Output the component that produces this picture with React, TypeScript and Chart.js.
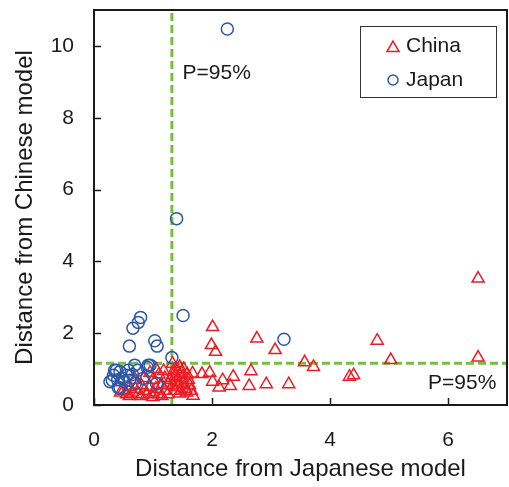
import React, { useEffect, useRef } from 'react';
import { Chart, registerables } from 'chart.js';

Chart.register(...registerables);

// ---- data ----
const japanPoints: [number, number][] = [
  [2.26, 10.47], [1.40, 5.19], [1.51, 2.49], [3.22, 1.83],
  [0.79, 2.44], [0.75, 2.30], [0.66, 2.14], [0.60, 1.64],
  [1.03, 1.79], [1.07, 1.64], [1.32, 1.32],
  [0.35, 0.97], [0.44, 0.93], [0.27, 0.65], [0.41, 0.49], [0.55, 0.83],
  [0.61, 0.69], [0.69, 1.11], [0.74, 0.97], [0.83, 0.74], [0.95, 1.11],
  [1.06, 0.60], [0.52, 0.65], [0.33, 0.83], [0.58, 0.97], [0.44, 0.47],
  [0.48, 0.75], [0.65, 0.85], [0.90, 1.05], [0.40, 0.70], [0.70, 0.60],
  [0.31, 0.69], [0.38, 0.97], [0.92, 1.11],
];

const chinaPoints: [number, number][] = [
  [6.51, 3.52], [6.51, 1.32], [4.80, 1.79], [5.03, 1.25], [4.33, 0.79],
  [4.40, 0.83], [3.07, 1.53], [3.57, 1.19], [3.72, 1.06], [2.92, 0.58],
  [3.30, 0.58], [2.01, 2.17], [2.76, 1.85], [1.99, 1.67], [2.06, 1.48],
  [2.66, 0.94], [2.36, 0.79], [2.18, 0.69], [2.01, 0.65], [1.96, 0.90],
  [1.83, 0.86], [1.67, 0.88], [2.31, 0.53], [2.63, 0.53], [2.12, 0.49],
  [1.68, 0.26], [1.45, 0.32], [1.45, 1.06],
  [1.33, 1.15], [1.35, 0.95], [1.38, 0.80], [1.40, 0.65], [1.42, 0.50],
  [1.36, 0.40], [1.48, 0.90], [1.50, 0.75], [1.52, 0.60], [1.55, 0.45],
  [1.58, 0.85], [1.60, 0.70], [1.62, 0.55], [1.45, 0.85], [1.30, 0.70],
  [1.33, 0.55], [1.40, 1.00], [1.52, 1.00], [1.57, 0.35], [1.47, 0.40],
  [1.65, 0.40],
  [0.50, 0.40], [0.55, 0.30], [0.60, 0.50], [0.65, 0.35], [0.70, 0.45],
  [0.75, 0.30], [0.80, 0.55], [0.85, 0.40], [0.90, 0.30], [0.95, 0.50],
  [1.00, 0.35], [1.05, 0.45], [1.10, 0.30], [1.15, 0.55], [1.20, 0.40],
  [1.25, 0.30], [0.70, 0.70], [0.85, 0.75], [1.00, 0.70], [1.10, 0.85],
  [1.20, 0.75], [0.95, 0.90], [1.25, 0.60], [0.60, 0.25], [0.80, 0.25],
  [1.00, 0.22], [1.15, 0.25], [0.45, 0.35], [1.05, 1.00], [1.18, 0.95],
];

const seriesNames = ['China', 'Japan'];
const thresholdX = 1.32; // P=95% on Japanese model distance
const thresholdY = 1.16; // P=95% on Chinese model distance
const thresholdLabel = 'P=95%';
const xRange = [0, 7];
const yRange = [0, 11];
const xTickStep = 2;
const yTickStep = 2;
const xTitle = 'Distance from Japanese model';
const yTitle = 'Distance from Chinese model';

const RED = '#ec1c24';
const BLUE = '#2c58a8';
const GREEN = '#77bd43';
const INK = '#1a1a1a';
const FONT = "'Liberation Sans', Arial, Helvetica, sans-serif";

const framePlugin = {
  id: 'frame',
  afterDatasetsDraw(chart: any) {
    const { ctx, chartArea: a, scales } = chart;
    const xs = scales.x;
    const ys = scales.y;
    ctx.save();
    // threshold labels
    ctx.fillStyle = INK;
    ctx.font = `21px ${FONT}`;
    ctx.textBaseline = 'middle';
    ctx.textAlign = 'left';
    ctx.fillText(thresholdLabel, xs.getPixelForValue(thresholdX + 0.18), ys.getPixelForValue(9.25));
    ctx.textAlign = 'right';
    ctx.fillText(thresholdLabel, xs.getPixelForValue(6.82), ys.getPixelForValue(0.62));

    // inward ticks
    ctx.strokeStyle = INK;
    ctx.lineWidth = 1.5;
    ctx.beginPath();
    xs.ticks.forEach((t: any) => {
      const px = Math.round(xs.getPixelForValue(t.value)) + 0.5;
      ctx.moveTo(px, a.bottom);
      ctx.lineTo(px, a.bottom - 7);
    });
    ys.ticks.forEach((t: any) => {
      const py = Math.round(ys.getPixelForValue(t.value)) + 0.5;
      ctx.moveTo(a.left, py);
      ctx.lineTo(a.left + 7, py);
    });
    ctx.stroke();

    // box
    ctx.lineWidth = 2;
    ctx.strokeRect(a.left, a.top, a.right - a.left, a.bottom - a.top);

    // legend
    const lx = a.right - 147;
    const ly = a.top + 16;
    const lw = 136;
    const lh = 71;
    ctx.fillStyle = '#ffffff';
    ctx.fillRect(lx, ly, lw, lh);
    ctx.lineWidth = 1;
    ctx.strokeStyle = '#333';
    ctx.strokeRect(lx + 0.5, ly + 0.5, lw, lh);
    const ds = chart.data.datasets;
    const rows = [
      { d: ds[0], y: ly + 20 },
      { d: ds[1], y: ly + 54 },
    ];
    rows.forEach((r) => {
      const d = r.d;
      ctx.strokeStyle = d.borderColor;
      ctx.lineWidth = 1.5;
      ctx.beginPath();
      if (d.pointStyle === 'triangle') {
        const R = 7;
        const cx = lx + 33;
        const cy = r.y + 2;
        ctx.moveTo(cx, cy - R);
        ctx.lineTo(cx + R * Math.sin((2 * Math.PI) / 3), cy + R / 2);
        ctx.lineTo(cx - R * Math.sin((2 * Math.PI) / 3), cy + R / 2);
        ctx.closePath();
      } else {
        ctx.arc(lx + 33, r.y, 5, 0, Math.PI * 2);
      }
      ctx.stroke();
      ctx.fillStyle = INK;
      ctx.font = `21px ${FONT}`;
      ctx.textAlign = 'left';
      ctx.textBaseline = 'middle';
      ctx.fillText(d.label, lx + 46, r.y);
    });
    ctx.restore();
  },
};

export default function App() {
  const ref = useRef<HTMLCanvasElement | null>(null);
  useEffect(() => {
    if (!ref.current) return;
    const chart = new Chart(ref.current, {
      type: 'scatter',
      data: {
        datasets: [
          {
            label: seriesNames[0],
            data: chinaPoints.map(([x, y]) => ({ x, y })),
            pointStyle: 'triangle',
            pointRadius: 7,
            pointHoverRadius: 7,
            borderColor: RED,
            backgroundColor: 'rgba(0,0,0,0)',
            borderWidth: 1.5,
            order: 1,
          } as any,
          {
            label: seriesNames[1],
            data: japanPoints.map(([x, y]) => ({ x, y })),
            pointStyle: 'circle',
            pointRadius: 6,
            pointHoverRadius: 6,
            borderColor: BLUE,
            backgroundColor: 'rgba(0,0,0,0)',
            borderWidth: 1.5,
            order: 0,
          } as any,
          {
            type: 'line',
            label: 'vthreshold',
            data: [
              { x: thresholdX, y: yRange[0] },
              { x: thresholdX, y: yRange[1] },
            ],
            borderColor: GREEN,
            borderWidth: 3,
            borderDash: [8, 4],
            pointRadius: 0,
            showLine: true,
            fill: false,
            order: 2,
          } as any,
          {
            type: 'line',
            label: 'hthreshold',
            data: [
              { x: xRange[0], y: thresholdY },
              { x: xRange[1], y: thresholdY },
            ],
            borderColor: GREEN,
            borderWidth: 3,
            borderDash: [8, 4],
            pointRadius: 0,
            showLine: true,
            fill: false,
            order: 2,
          } as any,
        ],
      },
      options: {
        responsive: false,
        animation: false,
        devicePixelRatio: 1,
        layout: { autoPadding: false, padding: { top: 10, right: 2, left: 0, bottom: 0 } },
        plugins: {
          legend: { display: false },
          tooltip: { enabled: false },
        },
        scales: {
          x: {
            type: 'linear',
            min: xRange[0],
            max: xRange[1],
            grid: { display: false, drawTicks: false },
            border: { display: false },
            ticks: {
              stepSize: xTickStep,
              includeBounds: false,
              color: INK,
              padding: 23,
              font: { size: 21, family: FONT },
            },
            title: {
              display: true,
              text: xTitle,
              color: INK,
              font: { size: 24, family: FONT },
              padding: { top: 0, bottom: 3 },
            },
            afterFit: (s: any) => {
              s.height = 82;
              s.paddingLeft = 0;
              s.paddingRight = 0;
              s.paddingTop = 0;
              s.paddingBottom = 0;
            },
          },
          y: {
            type: 'linear',
            min: yRange[0],
            max: yRange[1],
            grid: { display: false, drawTicks: false },
            border: { display: false },
            ticks: {
              stepSize: yTickStep,
              includeBounds: false,
              color: INK,
              padding: 20,
              font: { size: 21, family: FONT },
            },
            title: {
              display: true,
              text: yTitle,
              color: INK,
              font: { size: 24, family: FONT },
              padding: { top: 11, bottom: 0 },
            },
            afterFit: (s: any) => {
              s.width = 94;
              s.paddingLeft = 0;
              s.paddingRight = 0;
              s.paddingTop = 0;
              s.paddingBottom = 0;
            },
          },
        },
      } as any,
      plugins: [framePlugin],
    });
    return () => chart.destroy();
  }, []);

  return (
    <div style={{ position: 'absolute', left: 0, top: 0, width: 509, height: 487, background: '#fff' }}>
      <canvas ref={ref} width={509} height={487} style={{ display: 'block' }} />
    </div>
  );
}
